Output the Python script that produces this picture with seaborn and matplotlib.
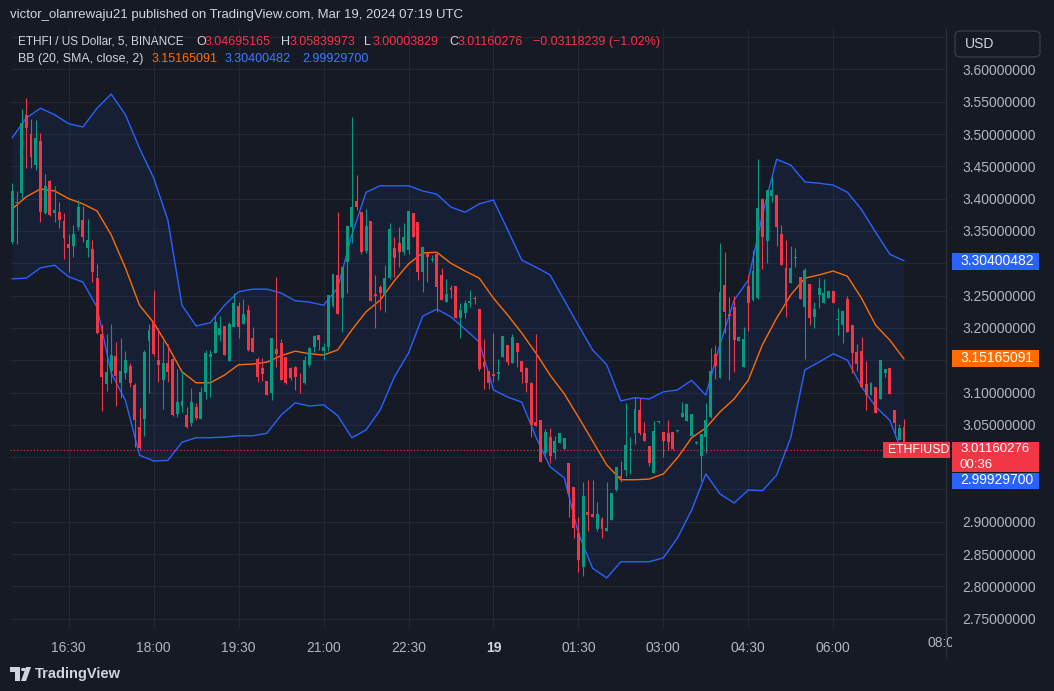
import numpy as np
import matplotlib.pyplot as plt
import seaborn as sns
from matplotlib.patches import Rectangle, FancyBboxPatch, Polygon, Circle
from matplotlib.lines import Line2D
from matplotlib.transforms import Bbox, TransformedBbox

# ETHFI/USD 5-minute candles, 15:30 (Mar 18) .. 07:15 (Mar 19)
opens = [3.333, 3.393, 3.409, 3.530, 3.500, 3.452, 3.489, 3.378, 3.427, 3.378,
         3.380, 3.366, 3.330, 3.327, 3.356, 3.367, 3.324, 3.322, 3.277, 3.190,
         3.113, 3.134, 3.156, 3.115, 3.130, 3.141, 3.111, 3.047, 3.059, 3.180,
         3.209, 3.150, 3.119, 3.146, 3.152, 3.067, 3.079, 3.065, 3.053, 3.077,
         3.059, 3.101, 3.155, 3.161, 3.189, 3.203, 3.148, 3.201, 3.234, 3.206,
         3.227, 3.184, 3.152, 3.138, 3.118, 3.099, 3.167, 3.177, 3.155, 3.138,
         3.140, 3.109, 3.115, 3.143, 3.171, 3.189, 3.164, 3.171, 3.234, 3.282,
         3.247, 3.302, 3.356, 3.396, 3.379, 3.319, 3.366, 3.252, 3.264, 3.251,
         3.277, 3.324, 3.331, 3.317, 3.321, 3.378, 3.364, 3.286, 3.314, 3.305,
         3.314, 3.282, 3.240, 3.261, 3.265, 3.215, 3.223, 3.238, 3.246, 3.229,
         3.147, 3.133, 3.129, 3.128, 3.155, 3.174, 3.146, 3.177, 3.148, 3.138,
         3.115, 3.054, 3.057, 3.007, 3.031, 3.007, 3.022, 3.013, 2.991, 2.953,
         2.883, 2.830, 2.915, 2.912, 2.889, 2.904, 2.886, 2.902, 2.949, 2.970,
         2.980, 3.011, 3.037, 3.073, 3.037, 3.017, 2.976, 3.054, 3.039, 3.038,
         3.039, 3.040, 3.062, 3.056, 3.033, 3.022, 3.002, 3.031, 3.062, 3.159,
         3.122, 3.266, 3.222, 3.233, 3.180, 3.140, 3.265, 3.243, 3.246, 3.400,
         3.334, 3.404, 3.406, 3.345, 3.293, 3.270, 3.308, 3.279, 3.233, 3.268,
         3.217, 3.251, 3.239, 3.246, 3.257, 3.212, 3.204, 3.245, 3.205, 3.162,
         3.165, 3.113, 3.096, 3.108, 3.090, 3.130, 3.138, 3.073, 3.027, 3.04695165]
highs = [3.424, 3.412, 3.539, 3.556, 3.523, 3.522, 3.502, 3.438, 3.429, 3.419,
         3.395, 3.378, 3.345, 3.359, 3.398, 3.389, 3.368, 3.336, 3.299, 3.206,
         3.190, 3.206, 3.178, 3.184, 3.164, 3.145, 3.115, 3.076, 3.166, 3.206,
         3.259, 3.200, 3.180, 3.175, 3.155, 3.136, 3.133, 3.077, 3.107, 3.083,
         3.109, 3.166, 3.166, 3.218, 3.218, 3.203, 3.209, 3.254, 3.240, 3.245,
         3.235, 3.201, 3.155, 3.154, 3.118, 3.184, 3.279, 3.183, 3.155, 3.140,
         3.141, 3.130, 3.156, 3.171, 3.189, 3.189, 3.177, 3.251, 3.284, 3.380,
         3.294, 3.360, 3.526, 3.436, 3.380, 3.384, 3.366, 3.282, 3.267, 3.297,
         3.362, 3.341, 3.356, 3.362, 3.381, 3.378, 3.364, 3.325, 3.318, 3.313,
         3.314, 3.293, 3.276, 3.266, 3.265, 3.238, 3.243, 3.259, 3.249, 3.229,
         3.183, 3.134, 3.192, 3.152, 3.188, 3.174, 3.190, 3.177, 3.149, 3.140,
         3.116, 3.190, 3.058, 3.043, 3.045, 3.033, 3.038, 3.030, 2.991, 2.954,
         2.907, 2.962, 2.965, 2.965, 2.931, 2.907, 2.962, 2.945, 2.985, 2.994,
         3.084, 3.031, 3.093, 3.092, 3.054, 3.017, 3.056, 3.056, 3.039, 3.057,
         3.039, 3.042, 3.086, 3.082, 3.067, 3.025, 3.036, 3.084, 3.169, 3.173,
         3.331, 3.317, 3.248, 3.250, 3.186, 3.202, 3.282, 3.321, 3.461, 3.401,
         3.414, 3.434, 3.406, 3.359, 3.336, 3.327, 3.323, 3.279, 3.293, 3.268,
         3.240, 3.277, 3.276, 3.257, 3.257, 3.231, 3.226, 3.250, 3.205, 3.175,
         3.186, 3.149, 3.116, 3.108, 3.150, 3.136, 3.138, 3.073, 3.052, 3.05839973]
lows = [3.330, 3.330, 3.401, 3.447, 3.447, 3.444, 3.364, 3.376, 3.373, 3.364,
        3.355, 3.307, 3.286, 3.310, 3.352, 3.333, 3.310, 3.271, 3.190, 3.071,
        3.102, 3.115, 3.079, 3.092, 3.121, 3.108, 3.016, 3.011, 3.033, 3.100,
        3.156, 3.116, 3.075, 3.116, 3.063, 3.062, 3.070, 3.045, 3.048, 3.057,
        3.059, 3.090, 3.093, 3.161, 3.180, 3.158, 3.148, 3.201, 3.184, 3.206,
        3.165, 3.162, 3.116, 3.118, 3.096, 3.088, 3.140, 3.119, 3.113, 3.120,
        3.104, 3.100, 3.113, 3.140, 3.162, 3.166, 3.150, 3.164, 3.233, 3.221,
        3.194, 3.254, 3.332, 3.382, 3.315, 3.316, 3.241, 3.200, 3.227, 3.225,
        3.276, 3.279, 3.294, 3.313, 3.314, 3.341, 3.274, 3.256, 3.271, 3.302,
        3.225, 3.243, 3.240, 3.246, 3.215, 3.184, 3.215, 3.232, 3.237, 3.134,
        3.105, 3.105, 3.116, 3.119, 3.155, 3.143, 3.146, 3.140, 3.114, 3.101,
        3.031, 3.048, 2.992, 3.003, 2.991, 2.997, 3.022, 3.013, 2.907, 2.875,
        2.822, 2.816, 2.886, 2.907, 2.886, 2.875, 2.886, 2.902, 2.948, 2.962,
        2.971, 2.974, 3.020, 3.035, 3.025, 2.986, 2.976, 3.053, 3.000, 3.011,
        3.011, 3.039, 3.062, 3.056, 3.033, 3.021, 2.963, 3.006, 3.060, 3.121,
        3.122, 3.192, 3.120, 3.131, 3.180, 3.140, 3.195, 3.242, 3.245, 3.291,
        3.300, 3.395, 3.327, 3.297, 3.217, 3.270, 3.295, 3.245, 3.152, 3.205,
        3.200, 3.231, 3.239, 3.246, 3.239, 3.189, 3.177, 3.193, 3.130, 3.133,
        3.108, 3.073, 3.096, 3.068, 3.090, 3.124, 3.098, 3.038, 3.027, 3.00003829]
closes = [3.412, 3.394, 3.517, 3.509, 3.465, 3.494, 3.380, 3.419, 3.375, 3.383,
          3.367, 3.339, 3.324, 3.345, 3.387, 3.341, 3.336, 3.286, 3.192, 3.124,
          3.132, 3.158, 3.125, 3.134, 3.150, 3.115, 3.057, 3.014, 3.163, 3.196,
          3.159, 3.143, 3.146, 3.132, 3.065, 3.086, 3.087, 3.047, 3.085, 3.060,
          3.101, 3.161, 3.159, 3.209, 3.200, 3.158, 3.206, 3.239, 3.202, 3.221,
          3.166, 3.162, 3.124, 3.129, 3.096, 3.184, 3.159, 3.119, 3.115, 3.122,
          3.124, 3.108, 3.150, 3.169, 3.188, 3.181, 3.170, 3.251, 3.284, 3.222,
          3.294, 3.358, 3.387, 3.387, 3.317, 3.358, 3.242, 3.250, 3.254, 3.277,
          3.353, 3.308, 3.317, 3.341, 3.381, 3.341, 3.286, 3.325, 3.310, 3.307,
          3.263, 3.243, 3.253, 3.259, 3.215, 3.227, 3.239, 3.241, 3.244, 3.136,
          3.140, 3.114, 3.126, 3.132, 3.188, 3.147, 3.186, 3.163, 3.132, 3.115,
          3.050, 3.048, 2.992, 3.039, 3.002, 3.025, 3.038, 3.030, 2.944, 2.890,
          2.841, 2.940, 2.910, 2.907, 2.912, 2.889, 2.890, 2.945, 2.985, 2.966,
          3.019, 3.013, 3.074, 3.037, 3.025, 2.991, 3.040, 3.055, 3.025, 3.023,
          3.012, 3.041, 3.068, 3.082, 3.067, 3.024, 3.036, 3.058, 3.133, 3.141,
          3.255, 3.225, 3.218, 3.181, 3.186, 3.183, 3.239, 3.288, 3.385, 3.341,
          3.414, 3.414, 3.356, 3.297, 3.236, 3.293, 3.310, 3.245, 3.290, 3.215,
          3.229, 3.261, 3.254, 3.257, 3.239, 3.213, 3.226, 3.193, 3.161, 3.144,
          3.108, 3.096, 3.115, 3.068, 3.150, 3.136, 3.098, 3.053, 3.045, 3.01160276]

# Bollinger bands (20, SMA, close, 2), read every 3rd candle
bb_upper = [3.494, 3.525, 3.540, 3.530, 3.516, 3.511, 3.540, 3.562, 3.530, 3.478,
            3.432, 3.367, 3.235, 3.203, 3.208, 3.235, 3.256, 3.260, 3.260, 3.254,
            3.242, 3.240, 3.235, 3.262, 3.344, 3.410, 3.420, 3.420, 3.420, 3.412,
            3.407, 3.387, 3.379, 3.392, 3.398, 3.352, 3.305, 3.294, 3.282, 3.243,
            3.204, 3.166, 3.143, 3.087, 3.092, 3.090, 3.101, 3.104, 3.119, 3.096,
            3.174, 3.243, 3.274, 3.375, 3.461, 3.452, 3.426, 3.424, 3.421, 3.410,
            3.383, 3.348, 3.314, 3.304]
bb_basis = [3.384, 3.403, 3.415, 3.412, 3.400, 3.392, 3.381, 3.344, 3.293, 3.235,
            3.208, 3.172, 3.132, 3.115, 3.115, 3.127, 3.143, 3.144, 3.147, 3.157,
            3.164, 3.160, 3.158, 3.166, 3.197, 3.225, 3.243, 3.273, 3.299, 3.316,
            3.317, 3.300, 3.288, 3.277, 3.246, 3.220, 3.192, 3.161, 3.127, 3.098,
            3.062, 3.025, 2.988, 2.965, 2.965, 2.966, 2.974, 2.999, 3.030, 3.045,
            3.070, 3.090, 3.119, 3.174, 3.215, 3.251, 3.277, 3.282, 3.288, 3.280,
            3.246, 3.204, 3.181, 3.152]
bb_lower = [3.276, 3.277, 3.293, 3.297, 3.279, 3.271, 3.232, 3.130, 3.088, 3.003,
            2.994, 2.995, 3.023, 3.030, 3.030, 3.031, 3.033, 3.033, 3.037, 3.065,
            3.084, 3.079, 3.081, 3.064, 3.030, 3.042, 3.073, 3.124, 3.161, 3.218,
            3.229, 3.217, 3.198, 3.178, 3.104, 3.093, 3.085, 3.031, 2.985, 2.968,
            2.882, 2.828, 2.813, 2.838, 2.838, 2.838, 2.844, 2.875, 2.918, 2.974,
            2.943, 2.929, 2.949, 2.948, 2.972, 3.030, 3.135, 3.147, 3.160, 3.150,
            3.109, 3.078, 3.057, 2.999]

time_labels = ["16:30", "18:00", "19:30", "21:00", "22:30", "19",
               "01:30", "03:00", "04:30", "06:00"]
time_pos = [12, 30, 48, 66, 84, 102, 120, 138, 156, 174]
price_ticks = [2.75, 2.80, 2.85, 2.90, 2.95, 3.00, 3.05, 3.10, 3.15, 3.20,
               3.25, 3.30, 3.35, 3.40, 3.45, 3.50, 3.55, 3.60]
hidden_ticks = [2.95, 3.00, 3.15, 3.30]   # covered by the live value tags

W, H = 1054, 691
BG = "#161a25"
GRID = "#242836"
TXT = "#b2b5be"
LIGHT = "#d1d4dc"
UP = "#089981"
DOWN = "#f23645"
BLUE = "#2962ff"
ORANGE = "#ff6d00"

sns.set_theme(style="dark", rc={"axes.facecolor": BG, "figure.facecolor": BG})
plt.rcParams["font.family"] = ["Liberation Sans", "DejaVu Sans"]


def fx(px):
    return px / W


def fy(py):
    return 1 - py / H


fig = plt.figure(figsize=(W / 100, H / 100), dpi=100)
ax = fig.add_axes([fx(10), fy(628), fx(946) - fx(10), fy(28) - fy(628)])
ax.set_facecolor(BG)
ax.set_xlim(-0.45, 197.9)
ax.set_ylim(2.7355, 3.6642)

# grid
ax.set_yticks(price_ticks)
ax.set_yticklabels(["" if v in hidden_ticks else f"{v:.8f}" for v in price_ticks])
ax.axhline(3.65, color=GRID, lw=0.8, zorder=0)
ax.set_xticks(time_pos)
ax.set_xticklabels(time_labels)
ax.grid(True, color=GRID, lw=0.8)
ax.set_axisbelow(True)
ax.yaxis.tick_right()
ax.tick_params(axis="y", length=0, pad=12, labelcolor=TXT, labelsize=10)
ax.tick_params(axis="x", length=0, pad=9, labelcolor=TXT, labelsize=10)
for lbl in ax.get_xticklabels():
    if lbl.get_text() == "19":
        lbl.set_color(LIGHT)
        lbl.set_fontweight("bold")
for s in ax.spines.values():
    s.set_visible(False)

# bollinger bands
band_x = np.arange(0, 3 * len(bb_upper), 3)
band_x[-1] = len(closes) - 1
ax.fill_between(band_x, bb_lower, bb_upper, color=BLUE, alpha=0.07, lw=0, zorder=1)
sns.lineplot(x=band_x, y=bb_upper, color=BLUE, lw=1, ax=ax, zorder=2)
sns.lineplot(x=band_x, y=bb_lower, color=BLUE, lw=1, ax=ax, zorder=2)
sns.lineplot(x=band_x, y=bb_basis, color=ORANGE, lw=1, ax=ax, zorder=2)

# candles
o = np.array(opens)
h = np.array(highs)
l = np.array(lows)
c = np.array(closes)
idx = np.arange(len(c))
colors = np.where(c >= o, UP, DOWN)
ax.vlines(idx, l, h, colors=colors, lw=0.8, zorder=3)
ax.bar(idx, np.maximum(np.abs(c - o), 0.0012), bottom=np.minimum(o, c),
       width=0.62, color=colors, lw=0, zorder=4)

# last price dotted line
ax.axhline(c[-1], color=DOWN, ls=(0, (1, 2)), lw=0.8, zorder=2)

# separator of price scale
fig.add_artist(Line2D([fx(946), fx(946)], [fy(28), fy(658)], color="#2a2e39", lw=1))

# clipped 08:00 label
t = fig.text(fx(945), fy(643), "08:00", ha="center", va="center", color=TXT, fontsize=10)
t.set_clip_box(TransformedBbox(Bbox.from_extents(0, 0, fx(952), 1), fig.transFigure))
t.set_clip_on(True)

# header texts
fig.text(fx(10), fy(15), "victor_olanrewaju21 published on TradingView.com, Mar 19, 2024 07:19 UTC",
         color=LIGHT, fontsize=9.5, va="center")
row1 = [(18, "ETHFI / US Dollar, 5, BINANCE", LIGHT, 8.5), (196, "O", LIGHT, 9),
        (205, "3.04695165", DOWN, 9), (281, "H", LIGHT, 9), (290, "3.05839973", DOWN, 9),
        (364, "L", LIGHT, 9), (373, "3.00003829", DOWN, 9), (449, "C", LIGHT, 9),
        (458, "3.01160276", DOWN, 9), (533, "\u22120.03118239 (\u22121.02%)", DOWN, 9)]
for x, s, col, fs in row1:
    fig.text(fx(x), fy(42), s, color=col, fontsize=fs, va="center")
row2 = [(18, "BB (20, SMA, close, 2)", LIGHT, 8.9), (152, "3.15165091", ORANGE, 9),
        (225, "3.30400482", "#3d7bff", 9), (302, "2.99929700", "#3d7bff", 9)]
for x, s, col, fs in row2:
    fig.text(fx(x), fy(59), s, color=col, fontsize=fs, va="center")


def box(x0, x1, y0, y1, color, zorder=5):
    fig.add_artist(Rectangle((fx(x0), fy(y1)), fx(x1) - fx(x0), fy(y0) - fy(y1),
                             transform=fig.transFigure, facecolor=color, edgecolor="none",
                             zorder=zorder))


# USD button
fig.add_artist(FancyBboxPatch((fx(955), fy(57)), fx(1040) - fx(955), fy(31) - fy(57),
                              boxstyle="round,pad=0,rounding_size=0.006",
                              transform=fig.transFigure, facecolor=BG, edgecolor="#363a45", lw=1))
fig.text(fx(965), fy(44), "USD", color=LIGHT, fontsize=10, va="center")

# price scale value tags
box(952, 1039, 252.5, 269.5, BLUE)
fig.text(fx(960), fy(261), "3.30400482", color="white", fontsize=10, va="center", zorder=6)
box(952, 1039, 350, 367, ORANGE)
fig.text(fx(960), fy(358.5), "3.15165091", color="white", fontsize=10, va="center", zorder=6)
box(952, 1039, 442, 472, DOWN)
fig.text(fx(960), fy(449.5), "3.01160276", color="white", fontsize=9.5, va="center", zorder=6)
fig.text(fx(960), fy(465), "00:36", color="white", fontsize=9.5, va="center", zorder=6)
box(952, 1039, 472.5, 488.5, BLUE)
fig.text(fx(960), fy(480.5), "2.99929700", color="white", fontsize=10, va="center", zorder=6)
box(883, 950, 442, 457.5, DOWN)
fig.text(fx(888), fy(450), "ETHFIUSD", color="white", fontsize=8.8, va="center", zorder=6)

# TradingView footer
fig.add_artist(Polygon([(fx(10), fy(667)), (fx(20), fy(667)), (fx(20), fy(681)), (fx(15), fy(681)),
                        (fx(15), fy(672)), (fx(10), fy(672))], closed=True,
                       transform=fig.transFigure, facecolor=LIGHT, edgecolor="none"))
fig.add_artist(Circle((fx(23.5), fy(669.5)), 2.5 / W, transform=fig.transFigure,
                      facecolor=LIGHT, edgecolor="none"))
fig.add_artist(Polygon([(fx(26), fy(667)), (fx(31), fy(667)), (fx(26), fy(681)), (fx(21), fy(681))],
                       closed=True, transform=fig.transFigure, facecolor=LIGHT, edgecolor="none"))
fig.text(fx(35), fy(674), "TradingView", color=LIGHT, fontsize=10.5, fontweight="bold", va="center")

fig.savefig("out.png", dpi=100, facecolor=BG)
